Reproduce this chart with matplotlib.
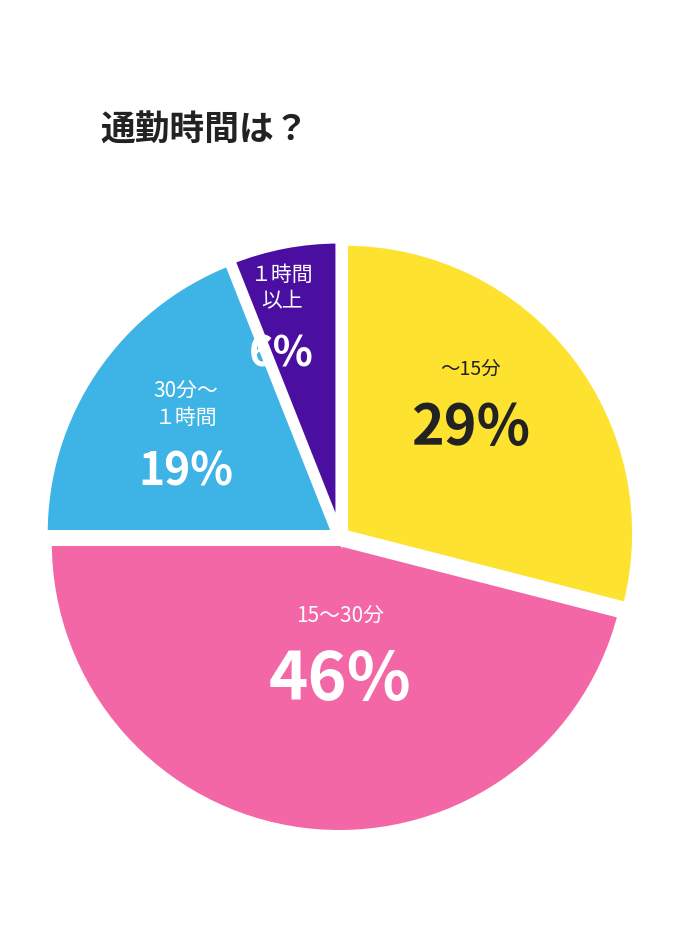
import matplotlib
matplotlib.use("Agg")
import matplotlib.pyplot as plt
import numpy as np

categories = ["～15分", "15～30分", "30分～\n１時間", "１時間\n以上"]
values = [29, 46, 19, 6]
colors = ["#FDE22F", "#F467A6", "#3DB4E5", "#4A0FA0"]
text_colors = ["#222222", "white", "white", "white"]
title = "通勤時間は？"

plt.rcParams['font.family'] = ['Noto Sans CJK JP', 'DejaVu Sans']

fig = plt.figure(figsize=(6.8, 9.4), dpi=100)
ax = fig.add_axes([0.5 - 0.445, 0.429 - 0.322, 0.89, 0.644])
wedges, _ = ax.pie(values, colors=colors, startangle=90, counterclock=False,
                   explode=[0.02] * 4,
                   wedgeprops=dict(linewidth=5, edgecolor="white"))
ax.set_xlim(-1.04, 1.04); ax.set_ylim(-1.04, 1.04)
ax.set_aspect('equal')

label_pos = [(0.45, 0.52), (0.0, -0.33), (-0.53, 0.35), (-0.2, 0.75)]
pct_size = [40, 48, 32, 30]
lab_size = [14, 15, 15, 15]
for (x, y), cat, v, ps, ls, tc in zip(label_pos, categories, values, pct_size, lab_size, text_colors):
    ax.text(x, y + 0.02, cat, ha='center', va='bottom', fontsize=ls, color=tc, linespacing=1.3)
    ax.text(x, y - 0.05, f"{v}%", ha='center', va='top', fontsize=ps, color=tc, fontweight='bold')

fig.text(100/680, 1 - 130/940, title, fontsize=25, fontweight='bold', color="#222222", va='center', ha='left')
fig.savefig("out.png", dpi=100, facecolor="white")
